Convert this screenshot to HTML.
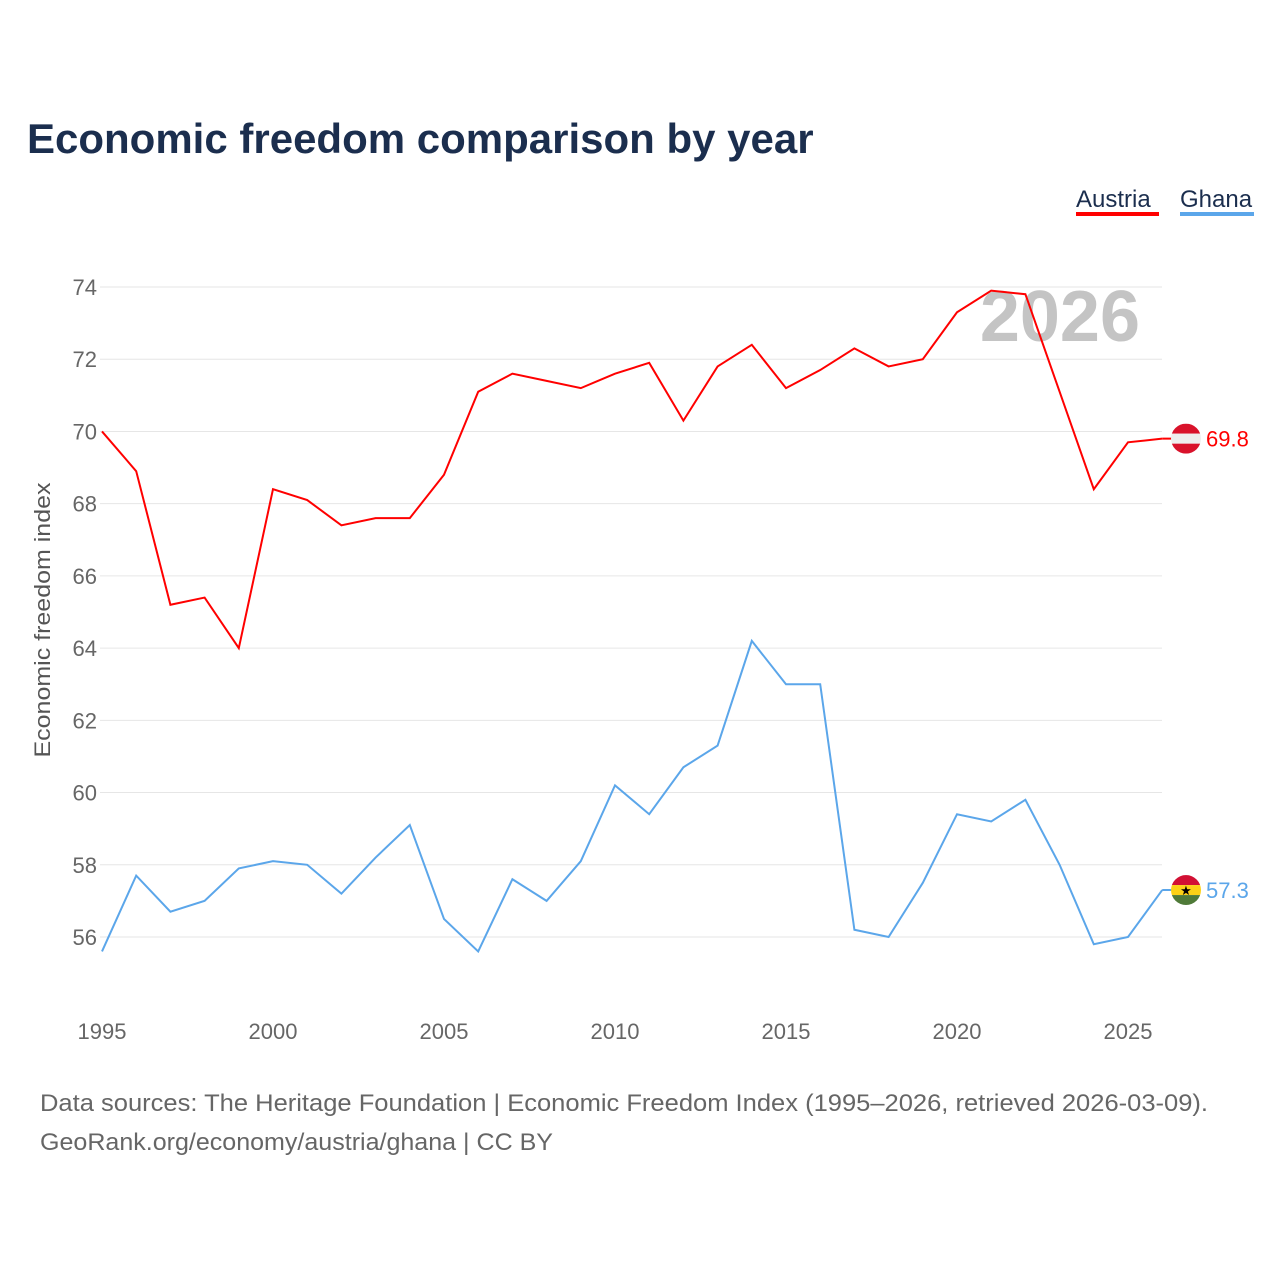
<!DOCTYPE html>
<html><head><meta charset="utf-8"><style>
body{margin:0;background:#fff;font-family:"Liberation Sans",sans-serif}
svg text{font-family:"Liberation Sans",sans-serif}
</style></head><body>
<svg id="chart" width="1280" height="1280">
<text x="27" y="153" font-size="42" font-weight="bold" fill="#1b2e4e">Economic freedom comparison by year</text>
<g><text x="1076" y="207" font-size="24" fill="#1b2e4e">Austria</text><rect x="1076" y="212" width="83" height="4" fill="#ff0000"/></g>
<g><text x="1180" y="207" font-size="24" fill="#1b2e4e">Ghana</text><rect x="1180" y="212" width="74" height="4" fill="#5ba6ea"/></g>
<text x="1140" y="341" text-anchor="end" font-size="72" font-weight="bold" fill="#c4c4c4">2026</text>
<g id="grid"></g><g id="series"></g>
<text transform="translate(50,620) rotate(-90)" text-anchor="middle" font-size="22" fill="#555" textLength="275" lengthAdjust="spacingAndGlyphs">Economic freedom index</text>
<text x="40" y="1111" font-size="24" fill="#666" textLength="1168" lengthAdjust="spacingAndGlyphs">Data sources: The Heritage Foundation | Economic Freedom Index (1995–2026, retrieved 2026-03-09).</text>
<text x="40" y="1150" font-size="24" fill="#666" textLength="513" lengthAdjust="spacingAndGlyphs">GeoRank.org/economy/austria/ghana | CC BY</text>
</svg>
<script>
const years=[1995,1996,1997,1998,1999,2000,2001,2002,2003,2004,2005,2006,2007,2008,2009,2010,2011,2012,2013,2014,2015,2016,2017,2018,2019,2020,2021,2022,2023,2024,2025,2026];
const austria=[70.0,68.9,65.2,65.4,64.0,68.4,68.1,67.4,67.6,67.6,68.8,71.1,71.6,71.4,71.2,71.6,71.9,70.3,71.8,72.4,71.2,71.7,72.3,71.8,72.0,73.3,73.9,73.8,71.1,68.4,69.7,69.8];
const ghana=[55.6,57.7,56.7,57.0,57.9,58.1,58.0,57.2,58.2,59.1,56.5,55.6,57.6,57.0,58.1,60.2,59.4,60.7,61.3,64.2,63.0,63.0,56.2,56.0,57.5,59.4,59.2,59.8,58.0,55.8,56.0,57.3];
const yTicks=[56,58,60,62,64,66,68,70,72,74];
const xTicks=[1995,2000,2005,2010,2015,2020,2025];
const NS="http://www.w3.org/2000/svg";
const x=v=>102+(v-1995)*34.2;
const y=v=>937-(v-56)*650/18;
function mk(t,a,p){const e=document.createElementNS(NS,t);for(const k in a)e.setAttribute(k,a[k]);p.appendChild(e);return e;}
const grid=document.getElementById('grid'),ser=document.getElementById('series');
yTicks.forEach(t=>{
 const l=mk('line',{x1:100,x2:1162,y1:y(t),y2:y(t),stroke:'#e6e6e6','stroke-width':1},grid);
 
 
 const tx=mk('text',{x:97,y:y(t)+8,'text-anchor':'end','font-size':22,fill:'#666'},grid);tx.textContent=t;
 
 
});
xTicks.forEach(t=>{
 const tx=mk('text',{x:x(t),y:1039,'text-anchor':'middle','font-size':22,fill:'#666'},grid);tx.textContent=t;
 
 
});
function line(vals,col,name,flag){
 const p=mk('polyline',{points:vals.map((v,i)=>x(years[i])+','+y(v)).join(' '),fill:'none',stroke:col,'stroke-width':2},ser);
 
 
 const last=vals[vals.length-1],cy=y(last);
 mk('line',{x1:x(2026),x2:1186,y1:cy,y2:cy,stroke:col,'stroke-width':2},ser);
 const g=mk('g',{},ser);
 
 
 const cp=mk('clipPath',{id:'c'+name},g);mk('circle',{cx:1186,cy:cy,r:15},cp);
 const gg=mk('g',{'clip-path':'url(#c'+name+')'},g);
 flag.forEach((c,i)=>mk('rect',{x:1171,y:cy-15+i*10,width:30,height:10,fill:c},gg));
 if(name==='ghana'){const s=mk('text',{x:1186,y:cy+5,'text-anchor':'middle','font-size':13,fill:'#000'},gg);s.textContent='★';}
 const t=mk('text',{x:1206,y:cy+8,'font-size':22,fill:col},ser);t.textContent=last.toFixed(1);
 
 
}
line(austria,'#ff0000','austria',['#d9122b','#eeeeee','#d9122b']);
line(ghana,'#5ba6ea','ghana',['#d21034','#fcd116','#4f7a38']);
</script>
</body></html>
